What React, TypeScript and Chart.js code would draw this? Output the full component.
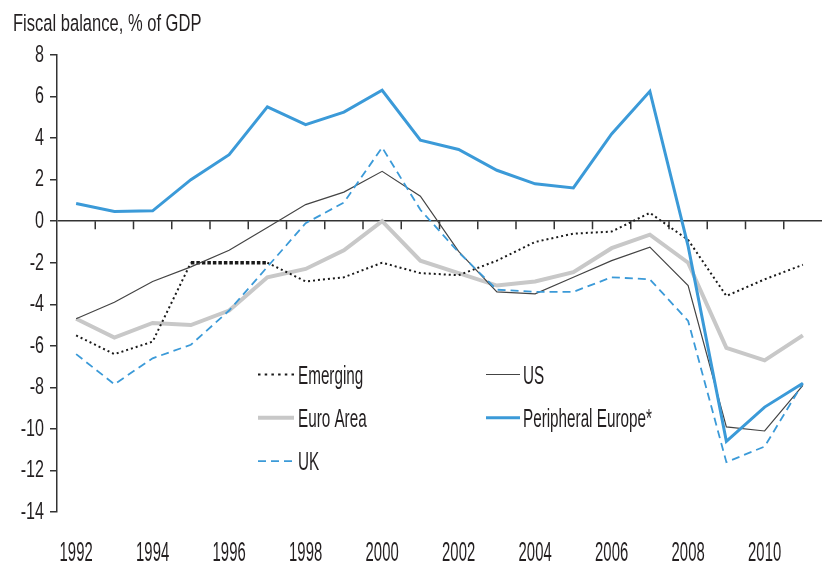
import React, { useEffect, useRef } from "react";
import { Chart, registerables } from "chart.js";

Chart.register(...registerables);

// ---- data ----
const years = [
  "1992", "1993", "1994", "1995", "1996", "1997", "1998", "1999", "2000", "2001",
  "2002", "2003", "2004", "2005", "2006", "2007", "2008", "2009", "2010", "2011",
];
const emerging = [-5.5, -6.4, -5.8, -2.0, -2.0, -2.0, -2.9, -2.7, -2.0, -2.5, -2.6, -1.9, -1.0, -0.6, -0.5, 0.4, -0.9, -3.6, -2.8, -2.1];
const us = [-4.7, -3.9, -2.9, -2.2, -1.4, -0.3, 0.8, 1.4, 2.4, 1.2, -1.45, -3.4, -3.5, -2.7, -1.9, -1.25, -3.1, -9.9, -10.1, -7.9];
const euroArea = [-4.7, -5.6, -4.9, -5.0, -4.3, -2.7, -2.3, -1.4, 0.0, -1.9, -2.5, -3.1, -2.9, -2.45, -1.3, -0.65, -2.0, -6.1, -6.7, -5.5];
const peripheralEurope = [0.85, 0.47, 0.5, 2.0, 3.2, 5.5, 4.65, 5.25, 6.3, 3.9, 3.45, 2.45, 1.8, 1.6, 4.2, 6.25, -1.2, -10.6, -8.95, -7.8];
const uk = [-6.4, -7.85, -6.6, -5.95, -4.3, -2.2, -0.1, 0.9, 3.55, 0.55, -1.5, -3.3, -3.4, -3.4, -2.7, -2.8, -4.8, -11.6, -10.85, -7.8];

const seriesNames = ["Emerging", "US", "Euro Area", "Peripheral Europe*", "UK"];
const titleText = "Fiscal balance, % of GDP";
const yMin = -14;
const yMax = 8;
const yStep = 2;

const FONT = "'Liberation Sans Narrow', 'Arial Narrow', 'Liberation Sans', Arial, sans-serif";
const TEXT = "#231f20";
const AXIS = "#333";
const BLUE = "#3b9ad8";

// draws condensed (horizontally squeezed) text, like the narrow face of the original
function condensedText(
  ctx: CanvasRenderingContext2D,
  text: string,
  x: number,
  y: number,
  size: number,
  sx: number,
  align: CanvasTextAlign,
  baseline: CanvasTextBaseline
) {
  ctx.save();
  ctx.translate(x, y);
  ctx.scale(sx, 1);
  ctx.font = `${size}px ${FONT}`;
  ctx.fillStyle = TEXT;
  ctx.textAlign = align;
  ctx.textBaseline = baseline;
  ctx.fillText(text, 0, 0);
  ctx.restore();
}

export default function App() {
  const ref = useRef<HTMLCanvasElement>(null);

  useEffect(() => {
    document.body.style.margin = "0";
    const canvas = ref.current;
    if (!canvas) return;

    const heavyEmergingSegments = [3, 4];

    const zeroTicks = {
      id: "zeroTicks",
      beforeDatasetsDraw(chart: any) {
        const { ctx, scales } = chart;
        const xs = scales.x;
        const y0 = scales.y.getPixelForValue(0);
        ctx.save();
        ctx.strokeStyle = AXIS;
        ctx.lineWidth = 1.5;
        ctx.beginPath();
        for (let i = 1; i < years.length; i++) {
          const x = (xs.getPixelForValue(i - 1) + xs.getPixelForValue(i)) / 2;
          ctx.moveTo(x, y0);
          ctx.lineTo(x, y0 + 8);
        }
        ctx.stroke();
        ctx.restore();
      },
    };

    const axisText = {
      id: "axisText",
      afterDraw(chart: any) {
        const { ctx, scales, chartArea } = chart;
        const xs = scales.x;
        const ys = scales.y;
        // title
        condensedText(ctx, titleText, 13, 30.5, 24.5, 0.675, "left", "alphabetic");
        // y tick labels
        ys.ticks.forEach((t: any, i: number) => {
          condensedText(ctx, String(t.label), chartArea.left - 13, ys.getPixelForTick(i) + 0.5, 23, 0.7, "right", "middle");
        });
        // x tick labels
        xs.ticks.forEach((t: any, i: number) => {
          if (!t.label) return;
          condensedText(ctx, String(t.label), xs.getPixelForTick(i), chartArea.bottom + 48.5, 27.5, 0.54, "center", "alphabetic");
        });
      },
    };

    const legendLayout = [
      { ds: 0, col: 0, row: 0, dash: [2.5, 4.2] },
      { ds: 1, col: 1, row: 0 },
      { ds: 2, col: 0, row: 1 },
      { ds: 3, col: 1, row: 1 },
      { ds: 4, col: 0, row: 2 },
    ];

    const insideLegend = {
      id: "insideLegend",
      afterDatasetsDraw(chart: any) {
        const { ctx, chartArea } = chart;
        legendLayout.forEach((it: any) => {
          const ds = chart.data.datasets[it.ds];
          const x0 = chartArea.left + (it.col ? 429 : 201);
          const y = chartArea.top + 319.5 + it.row * 43.3;
          ctx.save();
          ctx.strokeStyle = ds.borderColor;
          ctx.lineWidth = ds.borderWidth;
          ctx.setLineDash(it.dash || ds.borderDash || []);
          ctx.beginPath();
          ctx.moveTo(x0, y);
          ctx.lineTo(x0 + (it.col ? 34 : 36), y);
          ctx.stroke();
          ctx.restore();
          condensedText(ctx, ds.label, x0 + (it.col ? 37 : 40), y + 9.2, 25, 0.61, "left", "alphabetic");
        });
      },
    };

    const chart = new Chart(canvas, {
      type: "line",
      data: {
        labels: years,
        datasets: [
          {
            label: seriesNames[0],
            data: emerging,
            borderColor: "#1a1a1a",
            borderWidth: 2,
            borderDash: [2, 3],
            order: 4,
            segment: {
              borderWidth: (c: any) => (heavyEmergingSegments.includes(c.p0DataIndex) ? 3.5 : 2),
              borderDash: (c: any) => (heavyEmergingSegments.includes(c.p0DataIndex) ? [3.5, 2] : [2, 3]),
            },
          },
          {
            label: seriesNames[1],
            data: us,
            borderColor: "#444",
            borderWidth: 1.2,
            order: 3,
          },
          {
            label: seriesNames[2],
            data: euroArea,
            borderColor: "#c8c8c8",
            borderWidth: 4,
            order: 5,
          },
          {
            label: seriesNames[3],
            data: peripheralEurope,
            borderColor: BLUE,
            borderWidth: 3,
            order: 1,
          },
          {
            label: seriesNames[4],
            data: uk,
            borderColor: BLUE,
            borderWidth: 1.8,
            borderDash: [8, 5],
            order: 2,
          },
        ],
      },
      options: {
        animation: false,
        responsive: false,
        devicePixelRatio: 1,
        layout: { padding: { left: 12, right: 0, top: 55, bottom: 0 } },
        elements: { point: { radius: 0, hoverRadius: 0 }, line: { tension: 0, borderCapStyle: "butt" } },
        plugins: {
          legend: { display: false },
          tooltip: { enabled: false },
          title: { display: false },
        },
        scales: {
          x: {
            type: "category",
            offset: true,
            grid: { display: false, drawTicks: false },
            border: { display: false },
            ticks: {
              display: false,
              autoSkip: false,
              maxRotation: 0,
              minRotation: 0,
              callback: (_v: any, i: number) => (i % 2 === 0 ? years[i] : ""),
            },
            afterFit: (s: any) => {
              s.height = 52;
              s.paddingLeft = 0;
              s.paddingRight = 0;
            },
          },
          y: {
            min: yMin,
            max: yMax,
            ticks: {
              display: false,
              stepSize: yStep,
            },
            grid: {
              drawOnChartArea: true,
              color: (c: any) => (c.tick && c.tick.value === 0 ? AXIS : "rgba(0,0,0,0)"),
              lineWidth: 1.5,
              tickLength: 7,
              tickColor: AXIS,
              tickWidth: 1.5,
            },
            border: { display: true, color: AXIS, width: 1.5 },
            afterFit: (s: any) => {
              s.width = 45;
              s.paddingTop = 0;
              s.paddingBottom = 0;
            },
          },
        },
      },
      plugins: [zeroTicks, insideLegend, axisText],
    } as any);

    return () => chart.destroy();
  }, []);

  return (
    <div style={{ width: 822, height: 564, background: "#fff" }}>
      <canvas ref={ref} width={822} height={564} style={{ display: "block" }} />
    </div>
  );
}
